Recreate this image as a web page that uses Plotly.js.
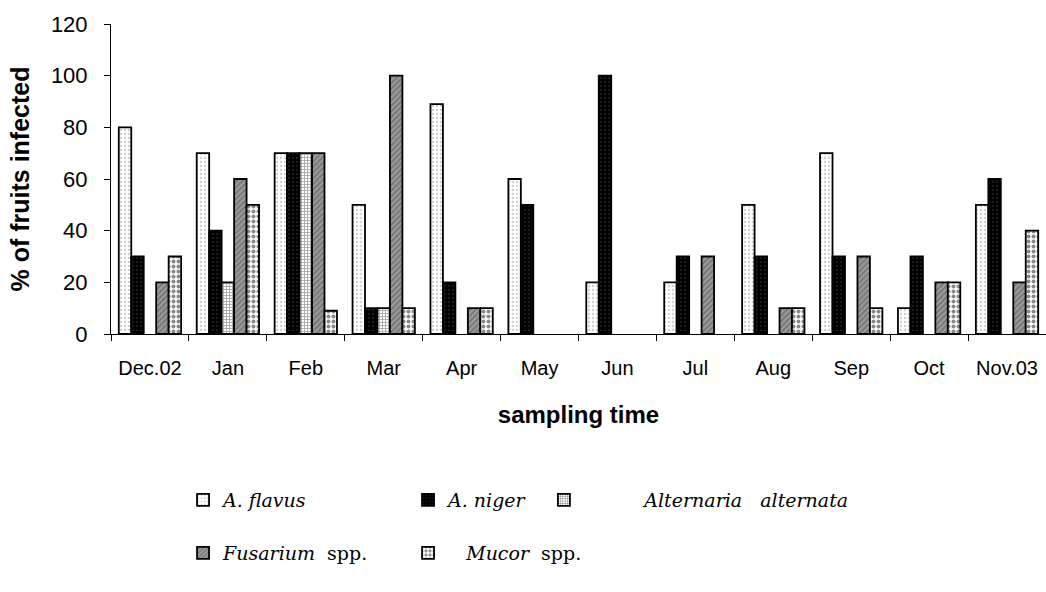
<!DOCTYPE html>
<html>
<head>
<meta charset="utf-8">
<script src="https://cdn.plot.ly/plotly-3.0.1.min.js"></script>
<style>html,body{margin:0;padding:0;background:#fff}#chart{width:1046px;height:592px}</style>
</head>
<body>
<div id="chart"></div>
<script>
const months = ["Dec.02","Jan","Feb","Mar","Apr","May","Jun","Jul","Aug","Sep","Oct","Nov.03"];
// null = no bar drawn for that month
const aFlavus    = [80, 70, 70, 50, 89, 60, 20, 20, 50, 70, 10, 50];
const aNiger     = [30, 40, 70, 10, 20, 50, 100, 30, 30, 30, 30, 60];
const alternaria = [null, 20, 70, 10, null, null, null, null, null, null, null, null];
const fusarium   = [20, 60, 70, 100, 10, null, null, 30, 10, 30, 20, 20];
const mucor      = [30, 50, 9, 10, 10, null, null, null, 10, 10, 20, 40];
const seriesNames = ["<i>A. flavus</i>", "<i>A. niger</i>", "\u00a0\u00a0\u00a0\u00a0\u00a0\u00a0\u00a0\u00a0\u00a0\u00a0<i>Alternaria\u00a0\u00a0 alternata</i>", "<i>Fusarium</i>\u00a0 spp.", "\u00a0\u00a0\u00a0<i>Mucor</i>\u00a0 spp."];

const line = {color: "#000", width: 1.8};
function bar(y, name, pattern, legend) {
  return {type: "bar", x: months, y: y, name: name, legend: legend,
    marker: {color: pattern.bgcolor, line: line, pattern: pattern}};
}
const traces = [
  bar(aFlavus, seriesNames[0], {shape: ".", bgcolor: "#ffffff", fgcolor: "#9a9a9a", size: 4, solidity: 0.25, fillmode: "overlay"}, "legend"),
  bar(aNiger, seriesNames[1], {shape: ".", bgcolor: "#000000", fgcolor: "#4a4a4a", size: 4, solidity: 0.2, fillmode: "overlay"}, "legend"),
  bar(alternaria, seriesNames[2], {shape: "+", bgcolor: "#ffffff", fgcolor: "#3a3a3a", size: 3, solidity: 0.45, fillmode: "overlay"}, "legend3"),
  bar(fusarium, seriesNames[3], {shape: "/", bgcolor: "#9a9a9a", fgcolor: "#4a4a4a", size: 4, solidity: 0.4, fillmode: "overlay"}, "legend2"),
  bar(mucor, seriesNames[4], {shape: ".", bgcolor: "#ffffff", fgcolor: "#111111", size: 5, solidity: 0.5, fillmode: "overlay"}, "legend2")
];

const legendFont = {family: "DejaVu Serif", size: 19, color: "#000"};
const layout = {
  width: 1046, height: 592,
  margin: {l: 111, r: 0, t: 24, b: 258},
  paper_bgcolor: "#fff", plot_bgcolor: "#fff",
  barmode: "group", bargap: 0.2, bargroupgap: 0,
  font: {family: "Liberation Sans, Arial, sans-serif", color: "#000"},
  xaxis: {
    type: "category", tickson: "boundaries", ticks: "outside", ticklen: 6, tickcolor: "#000",
    showline: true, linecolor: "#000", linewidth: 1, showgrid: false,
    tickfont: {size: 20}, ticklabelstandoff: 16,
    title: {text: "<b>sampling time</b>", font: {size: 24}, standoff: 28}
  },
  yaxis: {
    range: [0, 120], dtick: 20, ticks: "outside", ticklen: 6, tickcolor: "#000",
    showline: true, linecolor: "#000", linewidth: 1, showgrid: false, zeroline: false,
    tickfont: {size: 22}, ticklabelstandoff: 12,
    title: {text: "<b>% of fruits infected</b>", font: {size: 25}, standoff: 14}
  },
  legend: {orientation: "h", xref: "container", yref: "container", x: 0.175, y: 1 - 500/592, yanchor: "middle",
    entrywidth: 180, entrywidthmode: "pixels", font: legendFont, traceorder: "normal", bgcolor: "rgba(0,0,0,0)"},
  legend3: {orientation: "h", xref: "container", yref: "container", x: 0.52, y: 1 - 500/592, yanchor: "middle",
    font: legendFont, bgcolor: "rgba(0,0,0,0)"},
  legend2: {orientation: "h", xref: "container", yref: "container", x: 0.175, y: 1 - 553/592, yanchor: "middle",
    entrywidth: 180, entrywidthmode: "pixels", font: legendFont, traceorder: "normal", bgcolor: "rgba(0,0,0,0)"},
  showlegend: true
};
Plotly.newPlot("chart", traces, layout, {displayModeBar: false, staticPlot: true});
</script>
</body>
</html>
